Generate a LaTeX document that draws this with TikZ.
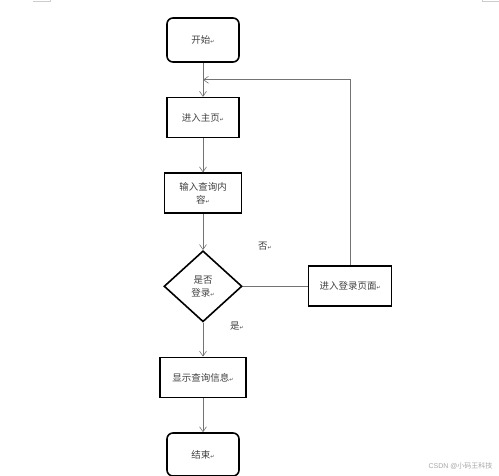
\documentclass[tikz,border=0pt]{standalone}
\usepackage{fontspec}
\setmainfont{Noto Sans CJK SC}
\newfontfamily\markfont{DejaVu Sans}
\newfontfamily\wmfont{Liberation Sans}
\usetikzlibrary{positioning, shapes.geometric, arrows.meta, calc}
\newcommand\pmark{{\markfont\fontsize{5}{5}\selectfont ↵}}

\begin{document}
\begin{tikzpicture}[x=1pt, y=-1pt, node distance=34pt, font=\fontsize{9.5}{13}\selectfont,
  main node/.style={rectangle, draw, line width=1.6pt, text=black!75, minimum height=40pt, inner sep=2pt, align=center},
  end node/.style={main node, rounded corners=6pt, minimum width=72pt, minimum height=44pt},
  choice node/.style={diamond, draw, line width=1.6pt, text=black!75, minimum width=78pt, minimum height=71pt, inner sep=0pt, align=center},
  flow/.style={draw=black!55, line width=0.6pt},
  arrow/.style={flow, -{Straight Barb[length=5pt, width=7pt]}},
  side label/.style={text=black!75}]
  \useasboundingbox (0,0) rectangle (499,476);

  \node[end node] (1) at (203,40) {开始\pmark};
  \node[main node, minimum width=72pt] (2) [below=of 1] {进入主页\pmark};
  \node[main node, minimum width=77pt] (3) [below=of 2] {输入查询内\\容\pmark};
  \node[choice node] (4) [below=36pt of 3] {是否\\登录\pmark};
  \node[main node, minimum width=83pt] (5) [right=65pt of 4] {进入登录页面\pmark};
  \node[main node, minimum width=86pt] (6) [below=of 4] {显示查询信息\pmark};
  \node[end node, minimum height=43pt] (7) [below=of 6] {结束\pmark};

  \coordinate (back) at ($(1.south)!0.5!(2.north)$);
  \node[side label] (no) at (265,246) {否\pmark};
  \node[side label] (yes) at (237,326) {是\pmark};

  \path[arrow] (1) edge (2);
  \path[arrow] (2) edge (3);
  \path[arrow] (3) edge (4);
  \path[flow] (4) edge (5);
  \path[arrow] (4) edge (6);
  \path[arrow] (6) edge (7);
  \draw[arrow] (5.north) |- (back);

  % page corner marks and watermark
  \draw[black!20, line width=0.5pt] (33,1.5) -- (50,1.5) -- (50,0);
  \draw[black!20, line width=0.5pt] (499,1.5) -- (482,1.5) -- (482,0);
  \node[anchor=east, text=black!35, font=\wmfont\fontsize{7}{8}\selectfont] (mark) at (496,466) {CSDN @\normalfont\fontsize{7}{8}\selectfont 小码王科技};
\end{tikzpicture}
\end{document}
